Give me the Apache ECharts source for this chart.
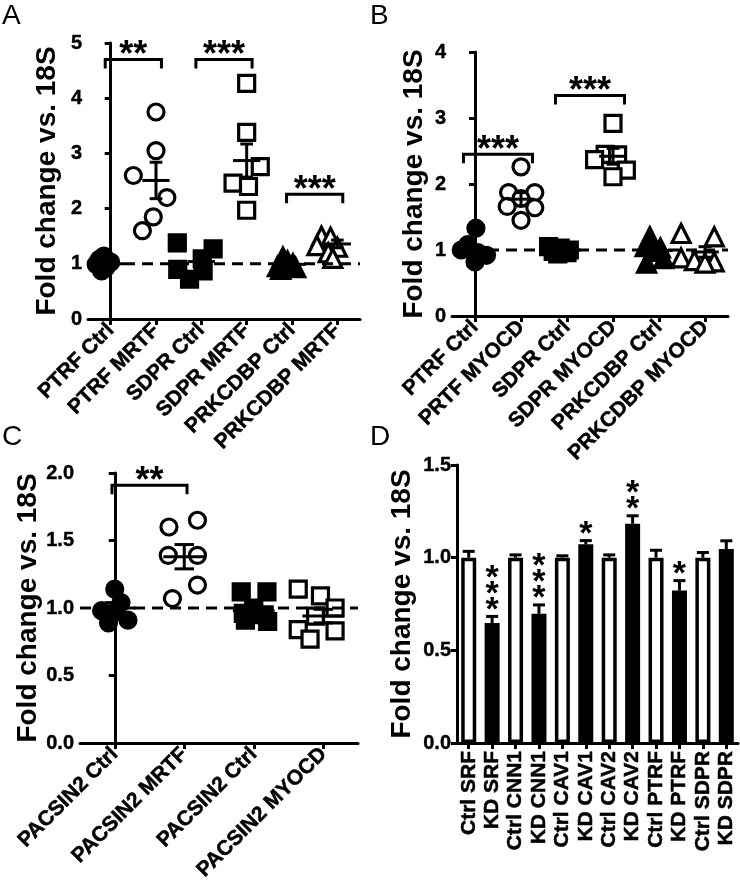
<!DOCTYPE html>
<html><head><meta charset="utf-8">
<script src="https://cdn.jsdelivr.net/npm/echarts@6/dist/echarts.min.js"></script>
<style>html,body{margin:0;padding:0;background:#fff}#c{width:740px;height:892px}</style>
</head><body><div id="c"></div>
<script>
// ================= DATA =================
const yTitle = 'Fold change vs. 18S';
const refLevel = 1;

// ---- Panel A ----
const catsA = ['PTRF Ctrl', 'PTRF MRTF', 'SDPR Ctrl', 'SDPR MRTF', 'PRKCDBP Ctrl', 'PRKCDBP MRTF'];
const a_ptrfCtrl = [1.14, 1.08, 1.03, 0.99, 0.94, 0.87];
const a_ptrfMrtf = [3.75, 3.05, 2.6, 2.2, 1.85, 1.6];
const a_sdprCtrl = [1.38, 1.27, 1.09, 0.9, 0.87, 0.72];
const a_sdprMrtf = [4.27, 3.38, 2.76, 2.46, 2.4, 1.97];
const a_prkCtrl = [1.12, 1.05, 1.0, 0.95, 0.93, 0.9];
const a_prkMrtf = [1.5, 1.48, 1.33, 1.3, 1.2, 1.1];
const meanA = [1.0, 2.51, 1.04, 2.87, 0.99, 1.36];
const semA = [0.04, 0.33, 0.1, 0.3, 0.03, 0.07];
const sigA = [[0, 1, 4.7, '**'], [2, 3, 4.7, '***'], [4, 5, 2.26, '***']];

// ---- Panel B ----
const catsB = ['PTRF Ctrl', 'PRTF MYOCD', 'SDPR Ctrl', 'SDPR MYOCD', 'PRKCDBP Ctrl', 'PRKCDBP MYOCD'];
const b_ptrfCtrl = [1.33, 1.08, 1.0, 0.96, 0.92, 0.82];
const b_ptrfMyocd = [2.26, 1.87, 1.87, 1.78, 1.66, 1.64, 1.45];
const b_sdprCtrl = [1.05, 1.03, 1.0, 0.98, 0.96, 0.94];
const b_sdprMyocd = [2.92, 2.45, 2.44, 2.37, 2.21, 2.11];
const b_prkCtrl = [1.2, 1.05, 1.03, 0.98, 0.87, 0.8];
const b_prkMyocd = [1.25, 1.2, 0.88, 0.84, 0.82, 0.8];
const meanB = [1.0, 1.77, 1.0, 2.42, 0.99, 0.97];
const semB = [0.07, 0.1, 0.02, 0.12, 0.06, 0.08];
const sigB = [[0, 1, 2.45, '***'], [2, 3, 3.34, '***']];

// ---- Panel C ----
const catsC = ['PACSIN2 Ctrl', 'PACSIN2 MRTF', 'PACSIN2 Ctrl', 'PACSIN2 MYOCD'];
const c_ctrl1 = [1.14, 1.04, 0.98, 0.97, 0.91, 0.89];
const c_mrtf = [1.65, 1.6, 1.39, 1.39, 1.17, 1.07];
const c_ctrl2 = [1.12, 1.12, 1.0, 0.96, 0.95, 0.91, 0.9];
const c_myocd = [1.14, 1.09, 1.0, 0.94, 0.84, 0.83, 0.77];
const meanC = [1.0, 1.38, 0.98, 0.94];
const semC = [0.04, 0.09, 0.03, 0.05];
const sigC = [[0, 1, 1.91, '**']];

// ---- Panel D ----
const catsD = ['Ctrl SRF', 'KD SRF', 'Ctrl CNN1', 'KD CNN1', 'Ctrl CAV1', 'KD CAV1', 'Ctrl CAV2', 'KD CAV2', 'Ctrl PTRF', 'KD PTRF', 'Ctrl SDPR', 'KD SDPR'];
const meanD = [1.0, 0.647, 1.0, 0.697, 1.0, 1.072, 1.0, 1.183, 1.0, 0.823, 1.0, 1.047];
const semD = [0.034, 0.036, 0.015, 0.048, 0.01, 0.02, 0.015, 0.043, 0.04, 0.053, 0.028, 0.044];
const starsD = ['', '***', '', '***', '', '*', '', '**', '', '*', '', ''];

// ================= LAYOUT / STYLE (not data) =================
const jitA = [
  [-0.15, -0.25, 0.0, -0.32, -0.1, -0.2],
  [0, 0, -0.5, 0.24, -0.06, -0.3],
  [-0.53, 0.26, 0.02, -0.52, 0.04, -0.26],
  [0, 0, 0.3, -0.3, 0.04, 0],
  [-0.2, -0.1, 0.02, -0.32, 0.08, -0.25],
  [-0.35, -0.15, -0.45, 0.0, -0.2, -0.1]
];
const jitB = [
  [0.02, -0.16, -0.3, 0.06, 0.25, 0],
  [0, -0.27, 0.3, 0, -0.3, 0.3, 0],
  [-0.4, -0.15, 0.05, -0.3, 0.0, -0.2],
  [0, -0.17, 0.1, -0.4, 0.29, 0],
  [-0.2, -0.3, 0.03, -0.12, 0.1, -0.27],
  [-0.52, 0.2, -0.52, -0.23, 0.2, 0]
];
const jitC = [
  [0, 0.09, -0.19, 0.0, 0.19, -0.09],
  [0.19, -0.22, -0.23, 0.19, 0.19, -0.17],
  [-0.18, 0.19, 0.0, -0.15, 0.15, -0.12, 0.2],
  [-0.36, -0.04, 0.17, -0.11, -0.36, 0.17, -0.19]
];
const markerSix = [['circle', 1], ['circle', 0], ['rect', 1], ['rect', 0], ['triangle', 1], ['triangle', 0]];
const markerFour = [['circle', 1], ['circle', 0], ['rect', 1], ['rect', 0]];
const symSize = { circle: 16, rect: 16, triangle: 18 };

const FONT = '"Liberation Sans", Arial, Helvetica, sans-serif';
const BLACK = '#000';

const grids = [
  { left: 88, top: 43, width: 272, height: 276 },
  { left: 452, top: 52, width: 276, height: 264 },
  { left: 80, top: 473, width: 278, height: 270 },
  { left: 457, top: 465, width: 281, height: 278 }
];

function catAxis(gi, cats, rot, fs) {
  return {
    type: 'category', gridIndex: gi, data: cats, boundaryGap: true,
    axisLine: { show: true, lineStyle: { color: BLACK, width: 3 } },
    axisTick: { show: true, alignWithLabel: true, length: 6, lineStyle: { color: BLACK, width: 3 } },
    axisLabel: { interval: 0, rotate: rot, margin: 8, color: BLACK, fontFamily: FONT, fontWeight: 'bold', fontSize: fs,
      textBorderColor: BLACK, textBorderWidth: 0.5 },
    splitLine: { show: false }
  };
}
function valXAxis(gi, n) {
  return { type: 'value', gridIndex: gi, min: -0.5, max: n - 0.5, show: false, splitLine: { show: false } };
}
function yAx(gi, max, step, dec, gap) {
  return {
    type: 'value', gridIndex: gi, min: 0, max: max, interval: step,
    name: yTitle, nameLocation: 'middle', nameGap: gap, nameRotate: 90,
    nameTextStyle: { color: BLACK, fontFamily: FONT, fontWeight: 'bold', fontSize: 28 },
    axisLine: { show: true, lineStyle: { color: BLACK, width: 3 } },
    axisTick: { show: true, length: 6, lineStyle: { color: BLACK, width: 3 } },
    axisLabel: { margin: 6, color: BLACK, fontFamily: FONT, fontWeight: 'bold', fontSize: 20,
      textBorderColor: BLACK, textBorderWidth: 0.4,
      formatter: v => v.toFixed(dec) },
    splitLine: { show: false }
  };
}

function line(p, q) {
  return { type: 'line', shape: { x1: p[0], y1: p[1], x2: q[0], y2: q[1] }, style: { stroke: BLACK, lineWidth: 3 } };
}

function meanSemSeries(xi, yi, means, sems) {
  return {
    type: 'custom', xAxisIndex: xi, yAxisIndex: yi, z: 5, silent: true,
    data: means.map((m, i) => [i, m, sems[i]]),
    renderItem: function (params, api) {
      const x = api.value(0), m = api.value(1), s = api.value(2);
      const hw = 0.3, cw = 0.14;
      return { type: 'group', children: [
        line(api.coord([x - hw, m]), api.coord([x + hw, m])),
        line(api.coord([x, m + s]), api.coord([x, m - s])),
        line(api.coord([x - cw, m + s]), api.coord([x + cw, m + s])),
        line(api.coord([x - cw, m - s]), api.coord([x + cw, m - s]))
      ] };
    }
  };
}

function sigSeries(xi, yi, sig, pad) {
  return {
    type: 'custom', xAxisIndex: xi, yAxisIndex: yi, z: 6, silent: true,
    data: sig.map(b => [b[0], b[1], b[2]]),
    renderItem: function (params, api) {
      const p0 = api.coord([api.value(0) - pad, api.value(2)]);
      const p1 = api.coord([api.value(1) + pad, api.value(2)]);
      const drop = 9;
      return { type: 'group', children: [
        { type: 'polyline', shape: { points: [[p0[0], p0[1] + drop], [p0[0], p0[1]], [p1[0], p1[1]], [p1[0], p1[1] + drop]] },
          style: { stroke: BLACK, lineWidth: 3, fill: 'none' } },
        { type: 'text', x: (p0[0] + p1[0]) / 2, y: p0[1] - 3,
          style: { text: sig[params.dataIndex][3], font: 'bold 36px ' + FONT, fill: BLACK, align: 'center', verticalAlign: 'middle' } }
      ] };
    }
  };
}

function refSeries(xi, yi, n) {
  return {
    type: 'line', xAxisIndex: xi, yAxisIndex: yi, z: 7, silent: true, symbol: 'none',
    data: [[-0.5, refLevel], [n - 0.5, refLevel]],
    lineStyle: { color: BLACK, width: 3, type: [11, 7] }
  };
}

function scatterSeries(xi, yi, groups, jit, markers) {
  return groups.map((vals, g) => {
    const sym = markers[g][0], filled = markers[g][1];
    return {
      type: 'scatter', xAxisIndex: xi, yAxisIndex: yi, z: 3, silent: true,
      symbol: sym, symbolSize: symSize[sym],
      itemStyle: { color: filled ? BLACK : '#fff', borderColor: BLACK, borderWidth: 3.2, opacity: 1 },
      data: vals.map((v, i) => [g + jit[g][i], v])
    };
  });
}

// ---- panel D series ----
const barSeries = {
  type: 'bar', xAxisIndex: 6, yAxisIndex: 3, barWidth: 15, z: 3, silent: true,
  data: meanD.map((v, i) => ({ value: v, itemStyle: { color: catsD[i].indexOf('KD') === 0 ? BLACK : '#fff', borderColor: BLACK, borderWidth: 3.5 } }))
};
const barErrSeries = {
  type: 'custom', xAxisIndex: 6, yAxisIndex: 3, z: 5, silent: true,
  data: meanD.map((m, i) => [i, m, semD[i]]),
  renderItem: function (params, api) {
    const i = api.value(0), m = api.value(1), s = api.value(2);
    const b = api.coord([i, m]), t = api.coord([i, m + s]);
    const kids = [
      line(b, t),
      line([t[0] - 6, t[1]], [t[0] + 6, t[1]])
    ];
    const st = starsD[params.dataIndex];
    if (st) {
      kids.push({ type: 'text', x: t[0], y: t[1] + 2,
        style: { text: st.split('').join('\n'), font: 'bold 34px ' + FONT, lineHeight: 16, fill: BLACK, align: 'center', verticalAlign: 'bottom' } });
    }
    return { type: 'group', children: kids };
  }
};

const letters = [['A', 2, 2], ['B', 370, 2], ['C', 2, 423], ['D', 370, 423]].map(l => ({
  type: 'text', left: l[1], top: l[2], style: { text: l[0], font: '28px ' + FONT, fill: BLACK }
}));

const option = {
  animation: false,
  backgroundColor: '#fff',
  grid: grids,
  graphic: letters,
  xAxis: [
    catAxis(0, catsA, 45, 21), valXAxis(0, catsA.length),
    catAxis(1, catsB, 45, 21), valXAxis(1, catsB.length),
    catAxis(2, catsC, 45, 21), valXAxis(2, catsC.length),
    catAxis(3, catsD, 90, 21)
  ],
  yAxis: [yAx(0, 5, 1, 0, 27), yAx(1, 4, 1, 0, 24), yAx(2, 2, 0.5, 1, 36), yAx(3, 1.5, 0.5, 1, 41)],
  series: [].concat(
    scatterSeries(1, 0, [a_ptrfCtrl, a_ptrfMrtf, a_sdprCtrl, a_sdprMrtf, a_prkCtrl, a_prkMrtf], jitA, markerSix),
    [meanSemSeries(1, 0, meanA, semA), refSeries(1, 0, catsA.length), sigSeries(1, 0, sigA, 0.12)],
    scatterSeries(3, 1, [b_ptrfCtrl, b_ptrfMyocd, b_sdprCtrl, b_sdprMyocd, b_prkCtrl, b_prkMyocd], jitB, markerSix),
    [meanSemSeries(3, 1, meanB, semB), refSeries(3, 1, catsB.length), sigSeries(3, 1, sigB, 0.25)],
    scatterSeries(5, 2, [c_ctrl1, c_mrtf, c_ctrl2, c_myocd], jitC, markerFour),
    [meanSemSeries(5, 2, meanC, semC), refSeries(5, 2, catsC.length), sigSeries(5, 2, sigC, 0.04)],
    [barSeries, barErrSeries]
  )
};

const chart = echarts.init(document.getElementById('c'));
chart.setOption(option);
</script>
</body></html>
